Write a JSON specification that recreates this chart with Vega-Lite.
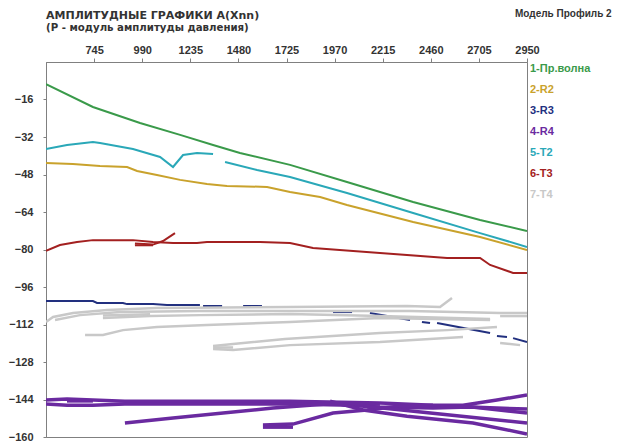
{
  "$schema": "https://vega.github.io/schema/vega-lite/v6.json",
  "autosize": {"type": "none"},
  "padding": {"left": 46, "top": 62, "right": 90, "bottom": 6},
  "width": 481,
  "height": 375,
  "background": "white",
  "config": {
    "view": {"stroke": "#808080", "strokeWidth": 1},
    "font": "Liberation Sans"
  },
  "title": {
    "text": "АМПЛИТУДНЫЕ  ГРАФИКИ  A(Xnn)",
    "subtitle": "(P - модуль амплитуды давления)",
    "anchor": "start",
    "frame": "group",
    "font": "DejaVu Sans",
    "fontSize": 11,
    "fontWeight": "bold",
    "color": "#333333",
    "subtitleFont": "DejaVu Sans",
    "subtitleFontSize": 10.2,
    "subtitleFontWeight": "bold",
    "subtitleColor": "#333333",
    "subtitlePadding": 2,
    "offset": 12,
    "dy": 36
  },
  "data": {
    "values": [
      {"s": "1-Пр.волна", "g": "a", "x": 500, "y": -9.4},
      {"s": "1-Пр.волна", "g": "a", "x": 739, "y": -19.2},
      {"s": "1-Пр.волна", "g": "a", "x": 979, "y": -26.0},
      {"s": "1-Пр.волна", "g": "a", "x": 1183, "y": -31.1},
      {"s": "1-Пр.волна", "g": "a", "x": 1351, "y": -35.4},
      {"s": "1-Пр.волна", "g": "a", "x": 1488, "y": -38.8},
      {"s": "1-Пр.волна", "g": "a", "x": 1743, "y": -43.9},
      {"s": "1-Пр.волна", "g": "a", "x": 2033, "y": -51.2},
      {"s": "1-Пр.волна", "g": "a", "x": 2370, "y": -59.7},
      {"s": "1-Пр.волна", "g": "a", "x": 2711, "y": -67.4},
      {"s": "1-Пр.волна", "g": "a", "x": 2950, "y": -72.1},

      {"s": "2-R2", "g": "a", "x": 500, "y": -43.1},
      {"s": "2-R2", "g": "a", "x": 637, "y": -43.5},
      {"s": "2-R2", "g": "a", "x": 775, "y": -44.4},
      {"s": "2-R2", "g": "a", "x": 913, "y": -44.8},
      {"s": "2-R2", "g": "a", "x": 964, "y": -46.5},
      {"s": "2-R2", "g": "a", "x": 1065, "y": -48.2},
      {"s": "2-R2", "g": "a", "x": 1183, "y": -50.3},
      {"s": "2-R2", "g": "a", "x": 1320, "y": -52.1},
      {"s": "2-R2", "g": "a", "x": 1422, "y": -52.9},
      {"s": "2-R2", "g": "a", "x": 1626, "y": -53.3},
      {"s": "2-R2", "g": "a", "x": 1743, "y": -55.5},
      {"s": "2-R2", "g": "a", "x": 1896, "y": -57.6},
      {"s": "2-R2", "g": "a", "x": 2033, "y": -61.0},
      {"s": "2-R2", "g": "a", "x": 2370, "y": -68.3},
      {"s": "2-R2", "g": "a", "x": 2711, "y": -74.7},
      {"s": "2-R2", "g": "a", "x": 2950, "y": -80.2},

      {"s": "3-R3", "g": "a", "x": 500, "y": -102.0},
      {"s": "3-R3", "g": "a", "x": 739, "y": -102.0},
      {"s": "3-R3", "g": "a", "x": 760, "y": -102.8},
      {"s": "3-R3", "g": "a", "x": 892, "y": -102.8},
      {"s": "3-R3", "g": "a", "x": 913, "y": -103.3},
      {"s": "3-R3", "g": "a", "x": 1045, "y": -103.3},
      {"s": "3-R3", "g": "a", "x": 1116, "y": -103.7},
      {"s": "3-R3", "g": "a", "x": 1284, "y": -103.7},
      {"s": "3-R3", "g": "b", "x": 1300, "y": -104.1},
      {"s": "3-R3", "g": "b", "x": 1397, "y": -104.1},
      {"s": "3-R3", "g": "c", "x": 1504, "y": -104.1},
      {"s": "3-R3", "g": "c", "x": 1600, "y": -104.1},
      {"s": "3-R3", "g": "d", "x": 1962, "y": -106.7},
      {"s": "3-R3", "g": "d", "x": 2059, "y": -106.7},
      {"s": "3-R3", "g": "e", "x": 2150, "y": -107.1},
      {"s": "3-R3", "g": "e", "x": 2354, "y": -110.1},
      {"s": "3-R3", "g": "f", "x": 2415, "y": -110.9},
      {"s": "3-R3", "g": "f", "x": 2456, "y": -111.4},
      {"s": "3-R3", "g": "g", "x": 2492, "y": -111.4},
      {"s": "3-R3", "g": "g", "x": 2762, "y": -115.6},
      {"s": "3-R3", "g": "h", "x": 2797, "y": -116.9},
      {"s": "3-R3", "g": "h", "x": 2848, "y": -117.3},
      {"s": "3-R3", "g": "i", "x": 2879, "y": -117.8},
      {"s": "3-R3", "g": "i", "x": 2950, "y": -119.5},

      {"s": "4-R4", "g": "p1", "x": 500, "y": -144.2},
      {"s": "4-R4", "g": "p1", "x": 607, "y": -143.8},
      {"s": "4-R4", "g": "p1", "x": 739, "y": -144.2},
      {"s": "4-R4", "g": "p1", "x": 902, "y": -144.7},
      {"s": "4-R4", "g": "p1", "x": 1284, "y": -144.7},
      {"s": "4-R4", "g": "p1", "x": 1743, "y": -144.7},
      {"s": "4-R4", "g": "p1", "x": 2201, "y": -145.5},
      {"s": "4-R4", "g": "p1", "x": 2471, "y": -146.4},
      {"s": "4-R4", "g": "p1", "x": 2624, "y": -146.4},
      {"s": "4-R4", "g": "p1", "x": 2797, "y": -144.2},
      {"s": "4-R4", "g": "p1", "x": 2950, "y": -142.1},
      {"s": "4-R4", "g": "p2", "x": 500, "y": -145.9},
      {"s": "4-R4", "g": "p2", "x": 607, "y": -146.4},
      {"s": "4-R4", "g": "p2", "x": 739, "y": -146.4},
      {"s": "4-R4", "g": "p2", "x": 902, "y": -145.9},
      {"s": "4-R4", "g": "p2", "x": 1284, "y": -145.9},
      {"s": "4-R4", "g": "p2", "x": 1743, "y": -145.9},
      {"s": "4-R4", "g": "p2", "x": 1998, "y": -146.4},
      {"s": "4-R4", "g": "p2", "x": 2201, "y": -147.2},
      {"s": "4-R4", "g": "p2", "x": 2471, "y": -147.6},
      {"s": "4-R4", "g": "p2", "x": 2660, "y": -147.2},
      {"s": "4-R4", "g": "p2", "x": 2950, "y": -148.1},
      {"s": "4-R4", "g": "p3", "x": 902, "y": -154.0},
      {"s": "4-R4", "g": "p3", "x": 1147, "y": -151.9},
      {"s": "4-R4", "g": "p3", "x": 1402, "y": -149.8},
      {"s": "4-R4", "g": "p3", "x": 1656, "y": -147.6},
      {"s": "4-R4", "g": "p3", "x": 1794, "y": -146.8},
      {"s": "4-R4", "g": "p3", "x": 1998, "y": -145.5},
      {"s": "4-R4", "g": "p3", "x": 2201, "y": -145.9},
      {"s": "4-R4", "g": "p4", "x": 1605, "y": -154.9},
      {"s": "4-R4", "g": "p4", "x": 1758, "y": -154.5},
      {"s": "4-R4", "g": "p4", "x": 1962, "y": -149.8},
      {"s": "4-R4", "g": "p4", "x": 2135, "y": -148.5},
      {"s": "4-R4", "g": "p4", "x": 2303, "y": -146.8},
      {"s": "4-R4", "g": "p4", "x": 2471, "y": -146.4},
      {"s": "4-R4", "g": "p5", "x": 1947, "y": -144.7},
      {"s": "4-R4", "g": "p5", "x": 2115, "y": -148.5},
      {"s": "4-R4", "g": "p5", "x": 2339, "y": -151.1},
      {"s": "4-R4", "g": "p5", "x": 2675, "y": -154.0},
      {"s": "4-R4", "g": "p5", "x": 2950, "y": -158.7},
      {"s": "4-R4", "g": "p6", "x": 2115, "y": -146.8},
      {"s": "4-R4", "g": "p6", "x": 2507, "y": -150.2},
      {"s": "4-R4", "g": "p6", "x": 2950, "y": -154.0},
      {"s": "4-R4", "g": "p7", "x": 2624, "y": -146.8},
      {"s": "4-R4", "g": "p7", "x": 2950, "y": -149.8},
      {"s": "4-R4", "g": "p8", "x": 607, "y": -144.6},
      {"s": "4-R4", "g": "p8", "x": 739, "y": -144.6},
      {"s": "4-R4", "g": "p9", "x": 1605, "y": -155.8},
      {"s": "4-R4", "g": "p9", "x": 1758, "y": -155.8},

      {"s": "5-T2", "g": "a", "x": 500, "y": -37.1},
      {"s": "5-T2", "g": "a", "x": 607, "y": -35.4},
      {"s": "5-T2", "g": "a", "x": 739, "y": -34.1},
      {"s": "5-T2", "g": "a", "x": 775, "y": -34.6},
      {"s": "5-T2", "g": "a", "x": 943, "y": -37.1},
      {"s": "5-T2", "g": "a", "x": 1081, "y": -40.5},
      {"s": "5-T2", "g": "a", "x": 1147, "y": -44.8},
      {"s": "5-T2", "g": "a", "x": 1198, "y": -39.7},
      {"s": "5-T2", "g": "a", "x": 1269, "y": -38.8},
      {"s": "5-T2", "g": "a", "x": 1351, "y": -39.3},
      {"s": "5-T2", "g": "b", "x": 1412, "y": -42.7},
      {"s": "5-T2", "g": "b", "x": 1575, "y": -46.1},
      {"s": "5-T2", "g": "b", "x": 1743, "y": -49.1},
      {"s": "5-T2", "g": "b", "x": 2033, "y": -55.9},
      {"s": "5-T2", "g": "b", "x": 2370, "y": -64.4},
      {"s": "5-T2", "g": "b", "x": 2711, "y": -73.0},
      {"s": "5-T2", "g": "b", "x": 2950, "y": -78.9},

      {"s": "6-T3", "g": "a", "x": 500, "y": -80.6},
      {"s": "6-T3", "g": "a", "x": 571, "y": -78.1},
      {"s": "6-T3", "g": "a", "x": 658, "y": -76.8},
      {"s": "6-T3", "g": "a", "x": 739, "y": -76.0},
      {"s": "6-T3", "g": "a", "x": 943, "y": -76.0},
      {"s": "6-T3", "g": "a", "x": 1045, "y": -76.8},
      {"s": "6-T3", "g": "a", "x": 1147, "y": -77.2},
      {"s": "6-T3", "g": "a", "x": 1269, "y": -77.2},
      {"s": "6-T3", "g": "a", "x": 1320, "y": -76.8},
      {"s": "6-T3", "g": "a", "x": 1590, "y": -76.8},
      {"s": "6-T3", "g": "a", "x": 1743, "y": -77.2},
      {"s": "6-T3", "g": "a", "x": 1860, "y": -79.4},
      {"s": "6-T3", "g": "a", "x": 2201, "y": -81.5},
      {"s": "6-T3", "g": "a", "x": 2543, "y": -83.6},
      {"s": "6-T3", "g": "a", "x": 2711, "y": -83.6},
      {"s": "6-T3", "g": "a", "x": 2762, "y": -86.6},
      {"s": "6-T3", "g": "a", "x": 2879, "y": -90.0},
      {"s": "6-T3", "g": "a", "x": 2950, "y": -90.0},
      {"s": "6-T3", "g": "b", "x": 953, "y": -77.4},
      {"s": "6-T3", "g": "b", "x": 1045, "y": -77.9},
      {"s": "6-T3", "g": "b", "x": 1096, "y": -76.4},
      {"s": "6-T3", "g": "b", "x": 1157, "y": -73.0},
      {"s": "6-T3", "g": "c", "x": 953, "y": -78.2},
      {"s": "6-T3", "g": "c", "x": 1045, "y": -78.2},

      {"s": "7-T4", "g": "g1", "x": 500, "y": -110.9},
      {"s": "7-T4", "g": "g1", "x": 536, "y": -108.8},
      {"s": "7-T4", "g": "g1", "x": 638, "y": -107.1},
      {"s": "7-T4", "g": "g1", "x": 811, "y": -105.8},
      {"s": "7-T4", "g": "g1", "x": 1065, "y": -105.0},
      {"s": "7-T4", "g": "g1", "x": 1743, "y": -104.5},
      {"s": "7-T4", "g": "g1", "x": 2339, "y": -104.1},
      {"s": "7-T4", "g": "g1", "x": 2507, "y": -104.5},
      {"s": "7-T4", "g": "g1", "x": 2568, "y": -100.7},
      {"s": "7-T4", "g": "g2", "x": 546, "y": -110.1},
      {"s": "7-T4", "g": "g2", "x": 673, "y": -108.0},
      {"s": "7-T4", "g": "g2", "x": 877, "y": -106.7},
      {"s": "7-T4", "g": "g2", "x": 1284, "y": -106.2},
      {"s": "7-T4", "g": "g2", "x": 1743, "y": -106.2},
      {"s": "7-T4", "g": "g2", "x": 2354, "y": -106.2},
      {"s": "7-T4", "g": "g2", "x": 2813, "y": -107.1},
      {"s": "7-T4", "g": "g2", "x": 2950, "y": -107.1},
      {"s": "7-T4", "g": "g3", "x": 790, "y": -109.2},
      {"s": "7-T4", "g": "g3", "x": 1030, "y": -108.4},
      {"s": "7-T4", "g": "g3", "x": 1284, "y": -108.0},
      {"s": "7-T4", "g": "g3", "x": 1743, "y": -107.5},
      {"s": "7-T4", "g": "g3", "x": 2201, "y": -108.4},
      {"s": "7-T4", "g": "g3", "x": 2762, "y": -109.7},
      {"s": "7-T4", "g": "g4", "x": 699, "y": -116.5},
      {"s": "7-T4", "g": "g4", "x": 790, "y": -116.5},
      {"s": "7-T4", "g": "g4", "x": 892, "y": -114.4},
      {"s": "7-T4", "g": "g4", "x": 1065, "y": -113.1},
      {"s": "7-T4", "g": "g4", "x": 1320, "y": -112.2},
      {"s": "7-T4", "g": "g4", "x": 1743, "y": -110.9},
      {"s": "7-T4", "g": "g4", "x": 2201, "y": -109.2},
      {"s": "7-T4", "g": "g4", "x": 2762, "y": -110.1},
      {"s": "7-T4", "g": "g5", "x": 1351, "y": -121.2},
      {"s": "7-T4", "g": "g5", "x": 1453, "y": -120.3},
      {"s": "7-T4", "g": "g5", "x": 1717, "y": -118.2},
      {"s": "7-T4", "g": "g5", "x": 2201, "y": -115.6},
      {"s": "7-T4", "g": "g5", "x": 2543, "y": -114.4},
      {"s": "7-T4", "g": "g5", "x": 2797, "y": -113.1},
      {"s": "7-T4", "g": "g6", "x": 1351, "y": -122.5},
      {"s": "7-T4", "g": "g6", "x": 1453, "y": -122.9},
      {"s": "7-T4", "g": "g6", "x": 1743, "y": -120.8},
      {"s": "7-T4", "g": "g6", "x": 2201, "y": -119.5},
      {"s": "7-T4", "g": "g6", "x": 2624, "y": -117.3},
      {"s": "7-T4", "g": "g7", "x": 2813, "y": -119.9},
      {"s": "7-T4", "g": "g7", "x": 2915, "y": -120.8},
      {"s": "7-T4", "g": "g8", "x": 2813, "y": -108.4},
      {"s": "7-T4", "g": "g8", "x": 2950, "y": -108.4},
      {"s": "7-T4", "g": "g9", "x": 1351, "y": -121.8},
      {"s": "7-T4", "g": "g9", "x": 1453, "y": -121.8},
      {"s": "7-T4", "g": "g10", "x": 790, "y": -108.2},
      {"s": "7-T4", "g": "g10", "x": 1030, "y": -107.6}
    ]
  },
  "encoding": {
    "x": {
      "field": "x", "type": "quantitative",
      "scale": {"domain": [500, 2950], "nice": false, "zero": false},
      "axis": {
        "orient": "top", "title": null, "grid": false, "format": "d",
        "values": [745, 990, 1235, 1480, 1725, 1970, 2215, 2460, 2705, 2950],
        "labelFont": "Liberation Sans", "labelFontSize": 11, "labelFontWeight": "bold",
        "labelColor": "#333333", "tickColor": "#808080", "tickSize": 4,
        "labelPadding": 3, "domainColor": "#808080", "labelFlush": false
      }
    },
    "y": {
      "field": "y", "type": "quantitative",
      "scale": {"domain": [-160, 0], "nice": false, "zero": false},
      "axis": {
        "title": null, "grid": false,
        "values": [-16, -32, -48, -64, -80, -96, -112, -128, -144, -160],
        "labelFont": "Liberation Sans", "labelFontSize": 11, "labelFontWeight": "bold",
        "labelColor": "#333333", "tickColor": "#808080", "tickSize": 3,
        "labelPadding": 10, "domainColor": "#808080", "labelFlush": false
      }
    },
    "color": {
      "field": "s", "type": "nominal",
      "scale": {
        "domain": ["1-Пр.волна", "2-R2", "3-R3", "4-R4", "5-T2", "6-T3", "7-T4"],
        "range": ["#3a9a4a", "#c9a22c", "#22307f", "#6a2aa0", "#2aa8b8", "#a32020", "#c8c8c8"]
      },
      "legend": {
        "orient": "none", "legendX": 469, "legendY": -53,
        "title": "Модель Профиль 2",
        "titleFont": "Liberation Sans", "titleFontSize": 10, "titleFontWeight": "bold",
        "titleColor": "#333333", "titlePadding": 44,
        "labelFont": "Liberation Sans", "labelFontSize": 11, "labelFontWeight": "bold",
        "symbolSize": 0, "symbolOpacity": 0, "symbolStrokeWidth": 0,
        "labelOffset": 4, "rowPadding": 9,
        "encode": {"labels": {"update": {"fill": {"scale": "color", "field": "value"}}}}
      }
    },
    "detail": {"field": "g", "type": "nominal"}
  },
  "layer": [
    {
      "transform": [{"filter": "datum.s !== '4-R4' && datum.s !== '7-T4'"}],
      "mark": {"type": "line", "strokeWidth": 2, "clip": true}
    },
    {
      "transform": [{"filter": "datum.s === '4-R4'"}],
      "mark": {"type": "line", "strokeWidth": 3.5, "clip": true}
    },
    {
      "transform": [{"filter": "datum.s === '7-T4'"}],
      "mark": {"type": "line", "strokeWidth": 2.5, "clip": true}
    }
  ]
}
